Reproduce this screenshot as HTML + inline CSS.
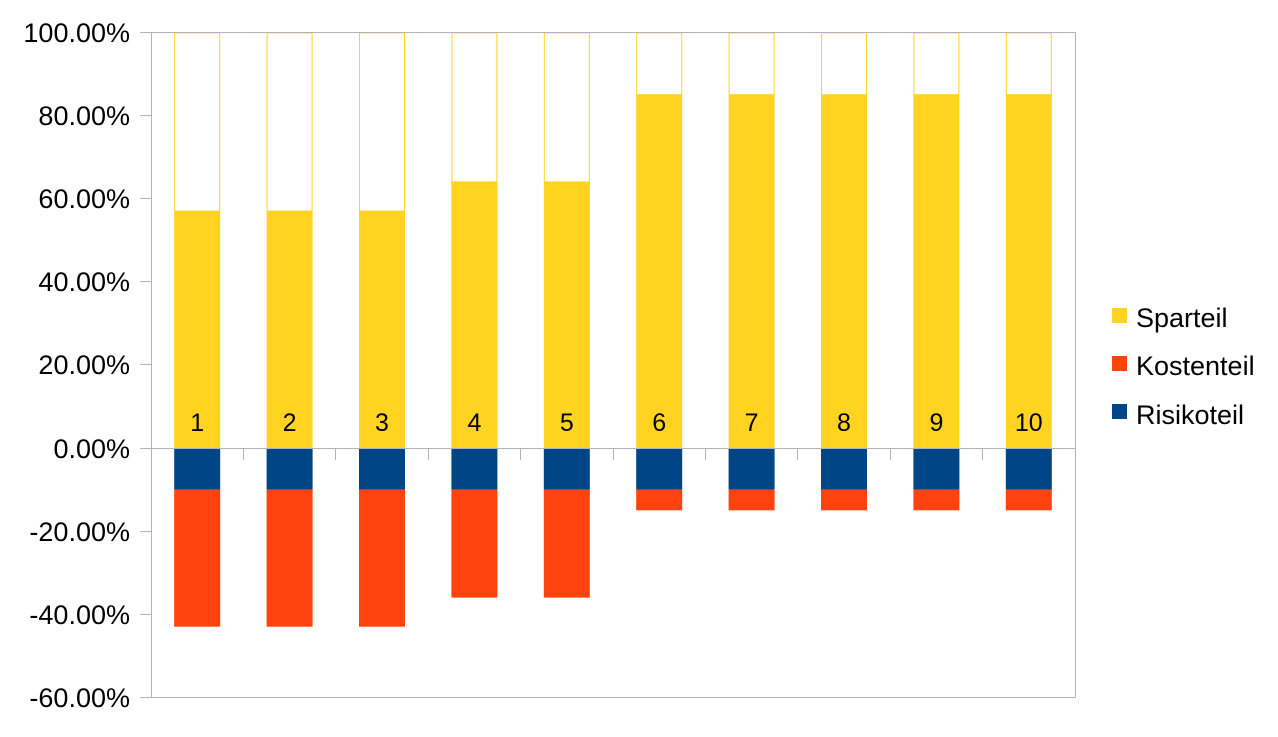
<!DOCTYPE html><html><head><style>body{margin:0;background:#fff}</style></head><body>
<svg width="1278" height="732" xmlns="http://www.w3.org/2000/svg" font-family="Liberation Sans, sans-serif">
<rect width="1278" height="732" fill="#fff"/>
<g>
<g transform="translate(174.2,0)"><rect x="0.5" y="32.9" width="45" height="178.2" fill="#fff" stroke="#ffd320"/><rect y="211.1" width="46" height="236.9" fill="#ffd320"/><rect y="448" width="46" height="41.6" fill="#004586"/><rect y="489.6" width="46" height="137.1" fill="#ff420e"/><text x="23" y="431" font-size="25" text-anchor="middle">1</text></g>
<g transform="translate(266.6,0)"><rect x="0.5" y="32.9" width="45" height="178.2" fill="#fff" stroke="#ffd320"/><rect y="211.1" width="46" height="236.9" fill="#ffd320"/><rect y="448" width="46" height="41.6" fill="#004586"/><rect y="489.6" width="46" height="137.1" fill="#ff420e"/><text x="23" y="431" font-size="25" text-anchor="middle">2</text></g>
<g transform="translate(359,0)"><rect x="0.5" y="32.9" width="45" height="178.2" fill="#fff" stroke="#ffd320"/><rect y="211.1" width="46" height="236.9" fill="#ffd320"/><rect y="448" width="46" height="41.6" fill="#004586"/><rect y="489.6" width="46" height="137.1" fill="#ff420e"/><text x="23" y="431" font-size="25" text-anchor="middle">3</text></g>
<g transform="translate(451.4,0)"><rect x="0.5" y="32.9" width="45" height="149.1" fill="#fff" stroke="#ffd320"/><rect y="182" width="46" height="266" fill="#ffd320"/><rect y="448" width="46" height="41.6" fill="#004586"/><rect y="489.6" width="46" height="108" fill="#ff420e"/><text x="23" y="431" font-size="25" text-anchor="middle">4</text></g>
<g transform="translate(543.8,0)"><rect x="0.5" y="32.9" width="45" height="149.1" fill="#fff" stroke="#ffd320"/><rect y="182" width="46" height="266" fill="#ffd320"/><rect y="448" width="46" height="41.6" fill="#004586"/><rect y="489.6" width="46" height="108" fill="#ff420e"/><text x="23" y="431" font-size="25" text-anchor="middle">5</text></g>
<g transform="translate(636.2,0)"><rect x="0.5" y="32.9" width="45" height="61.8" fill="#fff" stroke="#ffd320"/><rect y="94.7" width="46" height="353.3" fill="#ffd320"/><rect y="448" width="46" height="41.6" fill="#004586"/><rect y="489.6" width="46" height="20.7" fill="#ff420e"/><text x="23" y="431" font-size="25" text-anchor="middle">6</text></g>
<g transform="translate(728.6,0)"><rect x="0.5" y="32.9" width="45" height="61.8" fill="#fff" stroke="#ffd320"/><rect y="94.7" width="46" height="353.3" fill="#ffd320"/><rect y="448" width="46" height="41.6" fill="#004586"/><rect y="489.6" width="46" height="20.7" fill="#ff420e"/><text x="23" y="431" font-size="25" text-anchor="middle">7</text></g>
<g transform="translate(821,0)"><rect x="0.5" y="32.9" width="45" height="61.8" fill="#fff" stroke="#ffd320"/><rect y="94.7" width="46" height="353.3" fill="#ffd320"/><rect y="448" width="46" height="41.6" fill="#004586"/><rect y="489.6" width="46" height="20.7" fill="#ff420e"/><text x="23" y="431" font-size="25" text-anchor="middle">8</text></g>
<g transform="translate(913.4,0)"><rect x="0.5" y="32.9" width="45" height="61.8" fill="#fff" stroke="#ffd320"/><rect y="94.7" width="46" height="353.3" fill="#ffd320"/><rect y="448" width="46" height="41.6" fill="#004586"/><rect y="489.6" width="46" height="20.7" fill="#ff420e"/><text x="23" y="431" font-size="25" text-anchor="middle">9</text></g>
<g transform="translate(1005.8,0)"><rect x="0.5" y="32.9" width="45" height="61.8" fill="#fff" stroke="#ffd320"/><rect y="94.7" width="46" height="353.3" fill="#ffd320"/><rect y="448" width="46" height="41.6" fill="#004586"/><rect y="489.6" width="46" height="20.7" fill="#ff420e"/><text x="23" y="431" font-size="25" text-anchor="middle">10</text></g>
</g>
<rect x="151.5" y="32.5" width="924" height="665" fill="none" stroke="#b3b3b3" stroke-width="1"/>
<g stroke="#b3b3b3">
<line x1="140" y1="32.5" x2="151" y2="32.5"/><line x1="140" y1="115.5" x2="151" y2="115.5"/><line x1="140" y1="198.5" x2="151" y2="198.5"/><line x1="140" y1="281.5" x2="151" y2="281.5"/><line x1="140" y1="364.5" x2="151" y2="364.5"/><line x1="140" y1="448.5" x2="1075" y2="448.5"/><line x1="140" y1="531.5" x2="151" y2="531.5"/><line x1="140" y1="614.5" x2="151" y2="614.5"/><line x1="140" y1="697.5" x2="151" y2="697.5"/>
<line x1="243.5" y1="448" x2="243.5" y2="460"/><line x1="335.5" y1="448" x2="335.5" y2="460"/><line x1="428.5" y1="448" x2="428.5" y2="460"/><line x1="520.5" y1="448" x2="520.5" y2="460"/><line x1="613.5" y1="448" x2="613.5" y2="460"/><line x1="705.5" y1="448" x2="705.5" y2="460"/><line x1="797.5" y1="448" x2="797.5" y2="460"/><line x1="890.5" y1="448" x2="890.5" y2="460"/><line x1="982.5" y1="448" x2="982.5" y2="460"/>
</g>
<g font-size="27" text-anchor="end" fill="#000">
<text x="130" y="42">100.00%</text><text x="130" y="125">80.00%</text><text x="130" y="208">60.00%</text><text x="130" y="291">40.00%</text><text x="130" y="374">20.00%</text><text x="130" y="458">0.00%</text><text x="130" y="541">-20.00%</text><text x="130" y="624">-40.00%</text><text x="130" y="707">-60.00%</text>
</g>
<g font-size="27">
<rect x="1112" y="308" width="15" height="15" fill="#ffd320"/><text x="1136" y="327">Sparteil</text>
<rect x="1112" y="356" width="15" height="15" fill="#ff420e"/><text x="1136" y="375">Kostenteil</text>
<rect x="1112" y="404" width="15" height="15" fill="#004586"/><text x="1136" y="424">Risikoteil</text>
</g>
</svg>
</body></html>
